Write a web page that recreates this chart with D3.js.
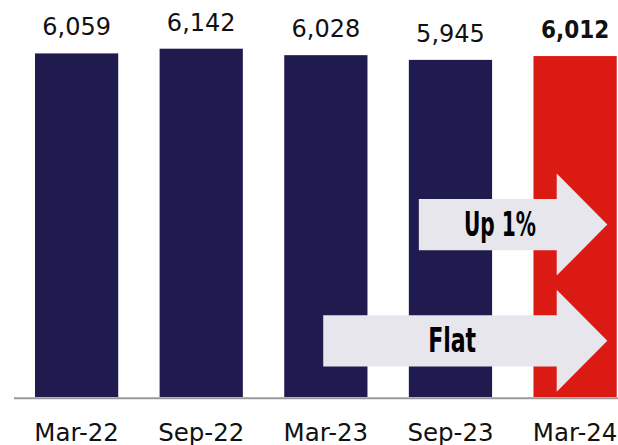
<!DOCTYPE html>
<meta charset="utf-8">
<style>
  body { margin: 0; background: #fff; }
  svg { display: block; }
  .val { font-family: "DejaVu Sans", sans-serif; font-size: 24px; fill: #111; }
  .val.hl { font-family: "DejaVu Sans Condensed", "DejaVu Sans", sans-serif; font-weight: bold; }
  .cat { font-family: "DejaVu Sans", sans-serif; font-size: 24.5px; fill: #111; }
  .arrow-label { font-family: "Liberation Sans Narrow", "DejaVu Sans Condensed", sans-serif; font-weight: bold; font-size: 34px; fill: #000; }
</style>
<body>
<script src="https://cdnjs.cloudflare.com/ajax/libs/d3/7.8.5/d3.min.js"></script>
<script>
// data
var periods = ["Mar-22", "Sep-22", "Mar-23", "Sep-23", "Mar-24"];
var values = [6059, 6142, 6028, 5945, 6012];
var highlight = ["Mar-24"];

// arrow annotations: label, band the arrow starts in, offset into that band, centre value
var arrowLabels = ["Up 1%", "Flat"];
var arrowFrom = ["Sep-23", "Mar-23"];
var arrowInset = [10, 39];
var arrowLevel = [3040, 990];
var arrowTextWidth = [72, 48];

var width = 618, height = 445;
var baseY = 397;

var svg = d3.select("body").append("svg")
    .attr("width", width)
    .attr("height", height);

var x = d3.scaleBand()
    .domain(periods)
    .range([14.3, 637.4])
    .paddingInner(0.332)
    .paddingOuter(0.166);

var y = d3.scaleLinear()
    .domain([0, 6142])
    .range([baseY, 48.7]);

var data = periods.map(function(p, i) { return {period: p, value: values[i]}; });
var isHl = function(d) { return highlight.indexOf(d.period) >= 0; };

// bars
svg.selectAll("rect.bar")
    .data(data)
  .enter().append("rect")
    .attr("class", "bar")
    .attr("x", function(d) { return x(d.period); })
    .attr("y", function(d) { return y(d.value); })
    .attr("width", x.bandwidth())
    .attr("height", function(d) { return baseY - y(d.value); })
    .attr("fill", function(d) { return isHl(d) ? "#dc1a14" : "#201b4f"; });

// value labels
svg.selectAll("text.val")
    .data(data)
  .enter().append("text")
    .attr("class", function(d) { return isHl(d) ? "val hl" : "val"; })
    .attr("text-anchor", "middle")
    .attr("x", function(d) { return x(d.period) + x.bandwidth() / 2; })
    .attr("y", function(d) { return y(d.value) - 18; })
    .text(function(d) { return d3.format(",")(d.value); });

// baseline axis
var axis = svg.append("g")
    .attr("transform", "translate(0," + (baseY + 1.3) + ")")
    .call(d3.axisBottom(x).tickSize(0).tickPadding(25));
axis.select(".domain").attr("d", "M14,0H618").attr("stroke", "#9a9a9a").attr("stroke-width", 2);
axis.selectAll(".tick text").attr("class", "cat").attr("font-family", null).attr("font-size", null);

// arrows
var headLen = 50.6, bodyHalf = 25.7, headHalf = 51;
var tipX = x(periods[periods.length - 1]) + x.bandwidth() - 9.4;
arrowLabels.forEach(function(label, i) {
  var x0 = x(arrowFrom[i]) + arrowInset[i];
  var cy = y(arrowLevel[i]);
  var hx = tipX - headLen;
  var path = d3.path();
  path.moveTo(x0, cy - bodyHalf);
  path.lineTo(hx, cy - bodyHalf);
  path.lineTo(hx, cy - headHalf);
  path.lineTo(tipX, cy);
  path.lineTo(hx, cy + headHalf);
  path.lineTo(hx, cy + bodyHalf);
  path.lineTo(x0, cy + bodyHalf);
  path.closePath();
  svg.append("path")
      .attr("d", path.toString())
      .attr("fill", "#e7e6ed");
  svg.append("text")
      .attr("class", "arrow-label")
      .attr("text-anchor", "middle")
      .attr("x", (x0 + tipX - headLen * 0.4) / 2 - 3)
      .attr("y", cy + 11.5)
      .attr("textLength", arrowTextWidth[i])
      .attr("lengthAdjust", "spacingAndGlyphs")
      .text(label);
});
</script>
</body>
